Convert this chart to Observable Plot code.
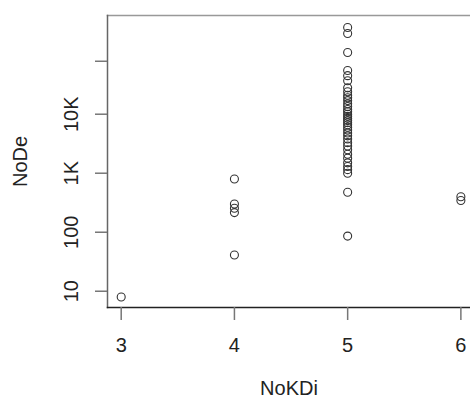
<!DOCTYPE html>
<html>
<head>
<meta charset="utf-8">
<script src="https://cdn.jsdelivr.net/npm/d3@7"></script>
<script src="https://cdn.jsdelivr.net/npm/@observablehq/plot@0.6"></script>
<style>
  html, body { margin: 0; padding: 0; background: #fff; }
  #chart { width: 470px; height: 403px; overflow: hidden; }
</style>
</head>
<body>
<div id="chart"></div>
<script>
// NoKDi category and NoDe values
const noKDi = [3,
  4, 4, 4, 4, 4,
  5, 5, 5, 5, 5, 5, 5, 5, 5, 5, 5, 5, 5, 5, 5, 5, 5, 5, 5, 5, 5, 5, 5, 5, 5, 5, 5, 5, 5, 5, 5, 5, 5, 5, 5, 5, 5,
  6, 6];
const noDe = [8,
  800, 300, 255, 215, 41,
  295000, 233000, 111000, 55000, 45000, 37000, 28000, 24000, 21000, 19000, 17000, 15000, 13500, 12000, 11000,
  10000, 9200, 8500, 7800, 7200, 6600, 6000, 5400, 4800, 4300, 3800, 3300, 2900, 2500, 2100, 1800, 1500, 1300,
  1150, 1000, 476, 86,
  400, 345];

const xTicks = [3, 4, 5, 6];
const yTicks = [10, 100, 1000, 10000, 79000];
const yTickLabels = ["10", "100", "1K", "10K", ""];
const xLabel = "NoKDi";
const yLabel = "NoDe";

const data = noKDi.map((k, i) => ({k, v: noDe[i]}));

const chart = Plot.plot({
  width: 470,
  height: 403,
  marginLeft: 107,
  marginRight: 0,
  marginTop: 15,
  marginBottom: 96,
  style: {fontFamily: "'Liberation Sans', Arial, sans-serif", color: "#222", background: "#fff"},
  x: {domain: [2.879, 6.085]},
  y: {type: "log", domain: [5.3, 471000]},
  marks: [
    Plot.frame({anchor: "top", stroke: "#999", strokeWidth: 1.5}),
    Plot.frame({anchor: "left", stroke: "#666", strokeWidth: 1.5}),
    Plot.frame({anchor: "bottom", stroke: "#222", strokeWidth: 1.5}),
    Plot.axisX(xTicks, {
      tickSize: 13, tickPadding: 17, fontSize: 20, stroke: "#777", strokeWidth: 1.5,
      fill: "#222", tickFormat: d => String(d),
      label: xLabel, labelAnchor: "center", labelArrow: "none", labelOffset: 87
    }),
    Plot.axisY(yTicks, {
      tickSize: 12, tickPadding: 18, fontSize: 20, stroke: "#777", strokeWidth: 1.5,
      fill: "#222", tickRotate: -90,
      tickFormat: d => yTickLabels[yTicks.indexOf(d)],
      label: yLabel, labelAnchor: "center", labelArrow: "none", labelOffset: 95
    }),
    Plot.dot(data, {x: "k", y: "v", r: 4, stroke: "#333", strokeWidth: 1.1, fill: "none"})
  ]
});
document.getElementById("chart").append(chart);
</script>
</body>
</html>
